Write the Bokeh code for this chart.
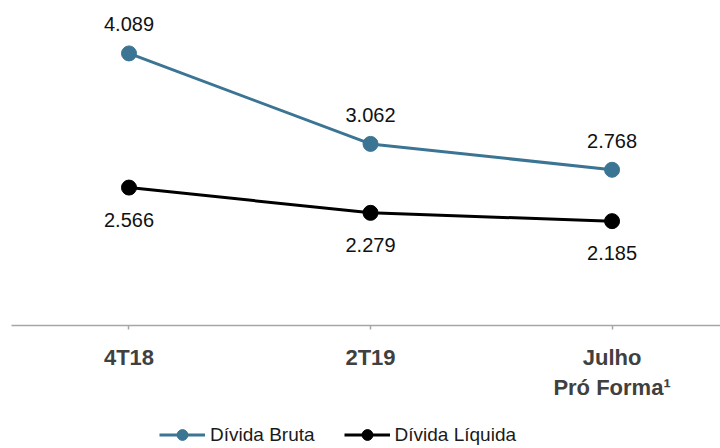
from bokeh.plotting import figure
from bokeh.layouts import column
from bokeh.models import (ColumnDataSource, LabelSet, Legend, LegendItem,
                          FixedTicker, Range1d)
from bokeh.core.properties import value
from bokeh.embed import file_html
from bokeh.resources import INLINE

categories = ["4T18", "2T19", "Julho\nPró Forma¹"]
divida_bruta = [4.089, 3.062, 2.768]
divida_liquida = [2.566, 2.279, 2.185]
bruta_labels = ["4.089", "3.062", "2.768"]
liquida_labels = ["2.566", "2.279", "2.185"]
series_names = ["Dívida Bruta", "Dívida Líquida"]

BLUE = "#3B7593"
BLACK = "#000000"
FONT = "Liberation Sans"
W = 720

xs = list(range(len(categories)))
src_b = ColumnDataSource(dict(x=xs, y=divida_bruta, t=bruta_labels))
src_l = ColumnDataSource(dict(x=xs, y=divida_liquida, t=liquida_labels))

p = figure(width=W, height=421, output_backend="svg", toolbar_location=None,
           x_range=Range1d(-0.532, 2.449), y_range=Range1d(1.0, 4.69),
           y_axis_location=None,
           min_border_left=0, min_border_right=0, min_border_top=0,
           min_border_bottom=96)
p.outline_line_color = None
p.grid.visible = False
p.background_fill_color = "white"
p.border_fill_color = "white"

p.line("x", "y", source=src_b, line_color=BLUE, line_width=3)
p.scatter("x", "y", source=src_b, size=15, fill_color=BLUE, line_color=BLUE)
p.line("x", "y", source=src_l, line_color=BLACK, line_width=3)
p.scatter("x", "y", source=src_l, size=15, fill_color=BLACK, line_color=BLACK)

p.add_layout(LabelSet(x="x", y="y", text="t", source=src_b, y_offset=29,
                      text_align="center", text_baseline="middle",
                      text_font=value(FONT), text_font_size="20px", text_color="#111111"))
p.add_layout(LabelSet(x="x", y="y", text="t", source=src_l, y_offset=-32,
                      text_align="center", text_baseline="middle",
                      text_font=value(FONT), text_font_size="20px", text_color="#111111"))

ax = p.xaxis[0]
ax.ticker = FixedTicker(ticks=xs)
ax.bounds = (-0.4865, 2.449)
ax.major_label_overrides = {i: c for i, c in enumerate(categories)}
ax.axis_line_color = "#A6A6A6"
ax.axis_line_width = 1.5
ax.major_tick_line_color = "#A6A6A6"
ax.major_tick_line_width = 1.5
ax.major_tick_in = 0
ax.major_tick_out = 4
ax.minor_tick_line_color = None
ax.major_label_standoff = 15
ax.major_label_text_font = FONT
ax.major_label_text_font_style = "bold"
ax.major_label_text_font_size = "22px"
ax.major_label_text_color = "#404040"
ax.major_label_text_line_height = 1.2

# legend strip
p2 = figure(width=W, height=27, output_backend="svg", toolbar_location=None,
            x_range=Range1d(0, 1), y_range=Range1d(0, 1),
            x_axis_location=None, y_axis_location=None,
            min_border_left=0, min_border_right=0, min_border_top=0,
            min_border_bottom=0)
p2.outline_line_color = None
p2.grid.visible = False
p2.background_fill_color = "white"
p2.border_fill_color = "white"
d1 = p2.line([-5, -4], [-5, -4], line_color=BLUE, line_width=3)
e1 = p2.scatter([-5], [-5], size=15, fill_color=BLUE, line_color=BLUE)
d2 = p2.line([-5, -4], [-5, -4], line_color=BLACK, line_width=3)
e2 = p2.scatter([-5], [-5], size=15, fill_color=BLACK, line_color=BLACK)

legend = Legend(items=[LegendItem(label=series_names[0], renderers=[d1, e1]),
                       LegendItem(label=series_names[1], renderers=[d2, e2])],
                orientation="horizontal", location=(159, 0),
                glyph_width=46, glyph_height=27, label_height=27,
                label_standoff=5, spacing=29, padding=0, margin=0,
                border_line_color=None, background_fill_alpha=0,
                label_text_font=FONT, label_text_font_size="19px",
                label_text_color="#1a1a1a")
p2.add_layout(legend, "center")

layout = column(p, p2, spacing=0)
open("out.html", "w").write(file_html(layout, INLINE))
